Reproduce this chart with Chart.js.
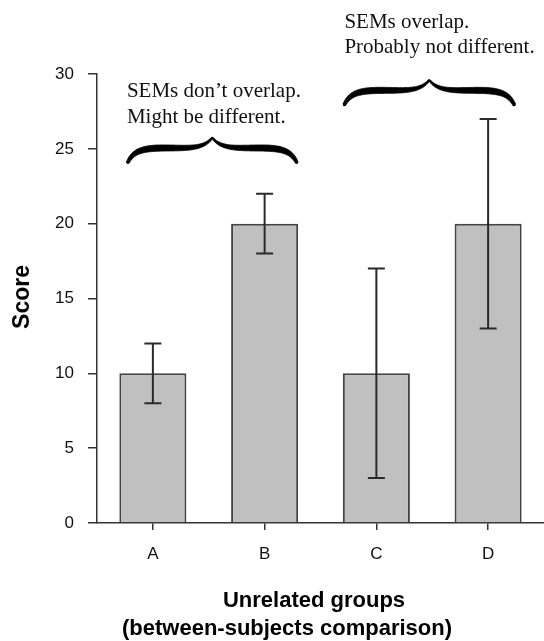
<!DOCTYPE html>
<html>
<head>
<meta charset="utf-8">
<script src="https://cdn.jsdelivr.net/npm/chart.js@4.4.1/dist/chart.umd.min.js"></script>
<style>
  html, body { margin: 0; padding: 0; background: #fff; }
  #wrap { width: 544px; height: 641px; }
</style>
</head>
<body>
<div id="wrap"><canvas id="semChart" width="544" height="641"></canvas></div>
<script>
const groups = ['A', 'B', 'C', 'D'];
const means = [10, 20, 10, 20];
const semLow = [8, 18, 3, 13];
const semHigh = [12, 22, 17, 27];
const yTicks = [0, 5, 10, 15, 20, 25, 30];

const sans = '"Liberation Sans", Arial, Helvetica, sans-serif';
const serif = '"Liberation Serif", "Times New Roman", serif';

const bez = (p0, p1, p2, p3, t) => {
  const u = 1 - t;
  return u * u * u * p0 + 3 * u * u * t * p1 + 3 * u * t * t * p2 + t * t * t * p3;
};

// calligraphic curly brace, peak pointing up
const drawBrace = (ctx, x0, x1, yEnd, yPeak) => {
  const xc = (x0 + x1) / 2;
  const half = xc - x0;
  const yFlat = yEnd - (yEnd - yPeak) * 0.58;
  const segs = [
    [[x0, yEnd], [x0 + 0.07 * half, yFlat + 2], [x0 + 0.2 * half, yFlat], [x0 + 0.45 * half, yFlat]],
    [[x0 + 0.45 * half, yFlat], [x0 + 0.72 * half, yFlat], [xc - 0.1 * half, yFlat + 1], [xc, yPeak]]
  ];
  const pts = [];
  segs.forEach((s, k) => {
    for (let i = 0; i <= 40; i++) {
      if (k === 1 && i === 0) continue;
      const t = i / 40;
      pts.push({
        x: bez(s[0][0], s[1][0], s[2][0], s[3][0], t),
        y: bez(s[0][1], s[1][1], s[2][1], s[3][1], t),
        s: (k + t) / 2
      });
    }
  });
  const width = (s) => {
    const sh = s < 0.4 ? Math.sin(Math.PI / 2 * s / 0.4) : Math.cos(Math.PI / 2 * (s - 0.4) / 0.6);
    return (s < 0.4 ? 3 : 1.6) + (6.2 - (s < 0.4 ? 3 : 1.6)) * sh;
  };
  const upper = [];
  const lower = [];
  pts.forEach((p, i) => {
    const a = pts[Math.max(0, i - 1)];
    const b = pts[Math.min(pts.length - 1, i + 1)];
    let dx = b.x - a.x, dy = b.y - a.y;
    const len = Math.hypot(dx, dy) || 1;
    const nx = -dy / len, ny = dx / len;
    const w = width(p.s) / 2;
    upper.push([p.x + nx * w, p.y + ny * w]);
    lower.push([p.x - nx * w, p.y - ny * w]);
  });
  ctx.save();
  ctx.fillStyle = '#000';
  ctx.strokeStyle = '#000';
  ctx.lineWidth = 0.8;
  [1, -1].forEach(side => {
    const mx = (x) => side === 1 ? x : 2 * xc - x;
    ctx.beginPath();
    upper.forEach(([x, y], i) => i ? ctx.lineTo(mx(x), y) : ctx.moveTo(mx(x), y));
    for (let i = lower.length - 1; i >= 0; i--) ctx.lineTo(mx(lower[i][0]), lower[i][1]);
    ctx.closePath();
    ctx.fill();
    ctx.stroke();
    // rounded tip at the outer end
    ctx.beginPath();
    ctx.arc(mx(pts[0].x), pts[0].y, 1.6, 0, Math.PI * 2);
    ctx.fill();
  });
  ctx.restore();
};

const errorBars = {
  id: 'errorBars',
  afterDatasetsDraw(chart) {
    const ctx = chart.ctx;
    const y = chart.scales.y;
    const meta = chart.getDatasetMeta(0);
    ctx.save();
    ctx.strokeStyle = '#2a2a2a';
    ctx.lineWidth = 2;
    meta.data.forEach((bar, i) => {
      const top = y.getPixelForValue(semHigh[i]);
      const bot = y.getPixelForValue(semLow[i]);
      ctx.beginPath();
      ctx.moveTo(bar.x, top);
      ctx.lineTo(bar.x, bot);
      ctx.moveTo(bar.x - 8.5, top);
      ctx.lineTo(bar.x + 8.5, top);
      ctx.moveTo(bar.x - 8.5, bot);
      ctx.lineTo(bar.x + 8.5, bot);
      ctx.stroke();
    });
    ctx.restore();
  }
};

const notes = {
  id: 'notes',
  afterDraw(chart) {
    const ctx = chart.ctx;
    const x = chart.scales.x;
    const y = chart.scales.y;
    const ax = x.getPixelForValue(0);
    const bx = x.getPixelForValue(1);
    const cx = x.getPixelForValue(2);
    const dx = x.getPixelForValue(3);
    ctx.save();
    ctx.fillStyle = '#111';
    ctx.textBaseline = 'alphabetic';
    ctx.textAlign = 'left';
    ctx.font = '21px ' + serif;
    ctx.fillText('SEMs don\u2019t overlap.', ax - 26, y.getPixelForValue(28.45));
    ctx.fillText('Might be different.', ax - 26, y.getPixelForValue(26.75));
    ctx.fillText('SEMs overlap.', cx - 32, y.getPixelForValue(33.1));
    ctx.fillText('Probably not different.', cx - 32, y.getPixelForValue(31.4));
    drawBrace(ctx, ax - 25, bx + 32, y.getPixelForValue(24.1), y.getPixelForValue(25.75));
    drawBrace(ctx, cx - 32, dx + 26, y.getPixelForValue(27.95), y.getPixelForValue(29.6));

    // axis titles
    ctx.fillStyle = '#000';
    ctx.textAlign = 'center';
    ctx.font = 'bold 22px ' + sans;
    ctx.fillText('Unrelated groups', 314, 607);
    ctx.fillText('(between-subjects comparison)', 287, 635);
    ctx.translate(29, 297);
    ctx.rotate(-Math.PI / 2);
    ctx.font = 'bold 23px ' + sans;
    ctx.fillText('Score', 0, 0);
    ctx.restore();
  }
};

const data = {
  labels: groups,
  datasets: [{
    data: means,
    backgroundColor: '#c0c0c0',
    borderColor: '#444',
    borderWidth: 2,
    barPercentage: 0.6,
    categoryPercentage: 1
  }]
};

const semConfig = {
  type: 'bar',
  data: data,
  options: {
    responsive: false,
    animation: false,
    layout: { padding: { top: 74, right: 0, left: 0, bottom: 0 } },
    plugins: { legend: { display: false }, tooltip: { enabled: false } },
    scales: {
      x: {
        offset: true,
        afterFit: (scale) => { scale.height = 118; },
        grid: { offset: false, drawOnChartArea: false, tickLength: 7, color: '#333', lineWidth: 1.5 },
        border: { color: '#333', width: 1.5 },
        ticks: { color: '#111', font: { family: sans, size: 17 }, padding: 14 }
      },
      y: {
        min: 0,
        max: 30,
        afterFit: (scale) => { scale.width = 97; },
        afterBuildTicks: (scale) => { scale.ticks = yTicks.map(v => ({ value: v })); },
        grid: { drawOnChartArea: false, tickLength: 9, color: '#333', lineWidth: 1.5 },
        border: { color: '#333', width: 1.5 },
        ticks: { color: '#111', font: { family: sans, size: 17 }, padding: 14 }
      }
    }
  },
  plugins: [errorBars, notes]
};

const semChart = new Chart(document.getElementById('semChart'), semConfig);
</script>
</body>
</html>
